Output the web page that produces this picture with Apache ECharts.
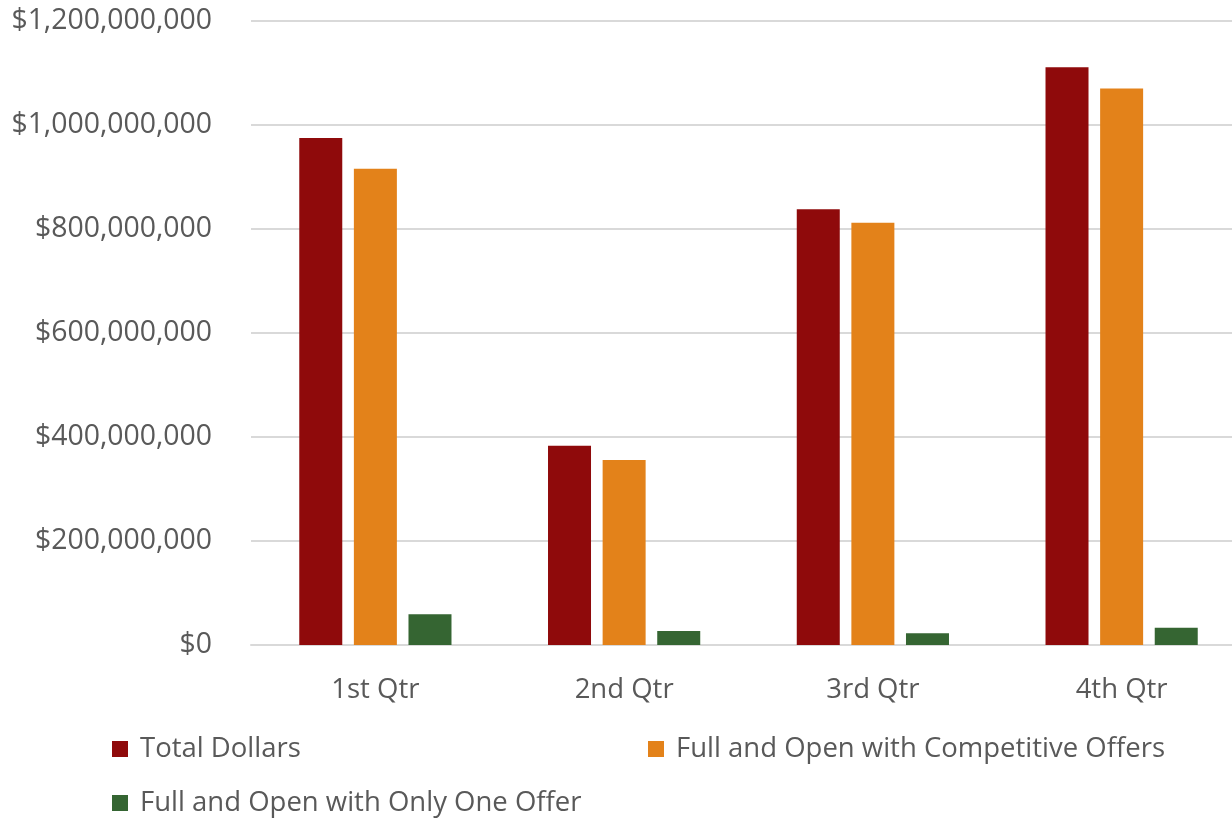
<!DOCTYPE html>
<html>
<head>
<meta charset="utf-8">
<script src="https://cdn.jsdelivr.net/npm/echarts@6/dist/echarts.min.js"></script>
<style>
html,body{margin:0;padding:0;background:#fff;overflow:hidden;}
#main{width:1232px;height:819px;}
</style>
</head>
<body>
<div id="main"></div>
<script>
const categories = ['1st Qtr', '2nd Qtr', '3rd Qtr', '4th Qtr'];
const totalDollars = [975000000, 383000000, 838000000, 1111000000];
const competitiveOffers = [916000000, 356000000, 812000000, 1070000000];
const oneOffer = [59000000, 27000000, 22500000, 33000000];
const seriesNames = ['Total Dollars', 'Full and Open with Competitive Offers', 'Full and Open with Only One Offer'];
const colors = ['#8f0a0b', '#e3821a', '#356532'];

const FONT = '"Open Sans", "Noto Sans", sans-serif';
const chart = echarts.init(document.getElementById('main'));
const fmt = v => '$' + Number(v).toLocaleString('en-US');

const legendText = { fontFamily: FONT, fontSize: 27.5, color: '#595959', lineHeight: 32, padding: [0, 0, 0, 7] };
function legendAt(name, left, top) {
  return {
    data: [name], left: left, top: top, padding: 0,
    itemWidth: 16, itemHeight: 16, icon: 'rect',
    textStyle: legendText
  };
}

chart.setOption({
  animation: false,
  backgroundColor: '#ffffff',
  grid: { left: 251, width: 995, top: 21, bottom: 174, containLabel: false, outerBoundsMode: 'none' },
  legend: [
    legendAt(seriesNames[0], 112, 733),
    legendAt(seriesNames[1], 648, 733),
    legendAt(seriesNames[2], 112, 787)
  ],
  xAxis: {
    type: 'category',
    data: categories,
    axisLine: { lineStyle: { color: '#d9d9d9', width: 2 } },
    axisTick: { show: false },
    axisLabel: { fontFamily: FONT, fontSize: 27.5, color: '#595959', margin: 31 }
  },
  yAxis: {
    type: 'value',
    min: 0, max: 1200000000, interval: 200000000,
    axisLine: { show: false },
    axisTick: { show: false },
    splitLine: { lineStyle: { color: '#d9d9d9', width: 2 } },
    axisLabel: { fontFamily: FONT, fontSize: 28.4, color: '#595959', margin: 39, formatter: fmt }
  },
  series: [
    { name: seriesNames[0], type: 'bar', data: totalDollars, barWidth: 43, barGap: '27%',
      itemStyle: { color: colors[0] } },
    { name: seriesNames[1], type: 'bar', data: competitiveOffers, barWidth: 43, barGap: '27%',
      itemStyle: { color: colors[1] } },
    { name: seriesNames[2], type: 'bar', data: oneOffer, barWidth: 43, barGap: '27%',
      itemStyle: { color: colors[2] } }
  ]
});
</script>
</body>
</html>
